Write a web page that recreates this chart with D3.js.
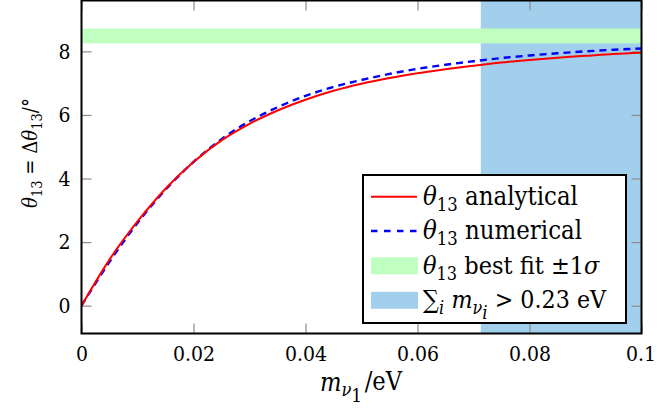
<!DOCTYPE html>
<html><head><meta charset="utf-8">
<script src="https://cdn.jsdelivr.net/npm/d3@7"></script>
<style>
html,body{margin:0;padding:0;background:#fff;}
svg, svg text{font-family:"DejaVu Serif Condensed","DejaVu Serif",serif;font-stretch:condensed;}
</style></head>
<body>
<svg id="c" width="657" height="416"></svg>
<script>
// ---- data ----
const mass = [0,0.005,0.01,0.015,0.02,0.025,0.03,0.035,0.04,0.045,0.05,0.055,0.06,0.065,0.07,0.075,0.08,0.085,0.09,0.095,0.1];
const analytical = [0,1.45,2.65,3.68,4.52,5.2,5.72,6.14,6.48,6.76,6.98,7.16,7.31,7.44,7.55,7.65,7.73,7.8,7.86,7.92,7.96];
const numerical  = [0,1.38,2.6,3.65,4.52,5.24,5.8,6.24,6.6,6.88,7.1,7.29,7.45,7.58,7.69,7.79,7.87,7.94,8.0,8.05,8.09];
const bestFit = [8.25, 8.72];      // theta13 best fit ±1σ band
const massLimit = 0.0713;           // m1 where sum m_i > 0.23 eV
const xTicks = [0,0.02,0.04,0.06,0.08,0.1];
const xTickLabels = ["0","0.02","0.04","0.06","0.08","0.1"];
const yTicks = [0,2,4,6,8];
const yTickLabels = ["0","2","4","6","8"];

const FONT = "'DejaVu Serif Condensed','DejaVu Serif',serif";
const svg = d3.select("#c");
const L=81.5, R=641.5, T=0.5, B=333.5;
const x = d3.scaleLinear().domain([0,0.1]).range([L,R]);
const y = d3.scaleLinear().domain([-0.875,9.6]).range([B,T]);

// scale a text's font-size so its rendered width equals w
function fit(t, w){
  const bw = t.node().getBBox().width;
  const fs = parseFloat(t.attr("font-size"));
  t.attr("font-size", fs*w/bw);
  return t;
}
// font size giving "0.08" a width of 42px
const probe = svg.append("text").attr("font-size",20).attr("font-family",FONT).text("0.08");
const TICKFS = 20*42/probe.node().getBBox().width;
probe.remove();

svg.append("defs").append("clipPath").attr("id","clip")
  .append("rect").attr("x",L).attr("y",T).attr("width",R-L).attr("height",B-T);

// shaded regions
svg.append("rect").attr("x",x(massLimit)).attr("y",T).attr("width",x(0.1)-x(massLimit)).attr("height",B-T)
  .attr("fill","#a2cfec");
svg.append("rect").attr("x",L).attr("y",y(bestFit[1])).attr("width",R-L).attr("height",y(bestFit[0])-y(bestFit[1]))
  .attr("fill","#bfffbf");

// ticks (inward, grey)
function styleAxis(g){ g.attr("font-family",FONT); g.select(".domain").remove(); g.selectAll(".tick line").attr("stroke","#8c8c8c").attr("stroke-width",1.2); }
const xb = svg.append("g").attr("transform",`translate(0,${B})`)
  .call(d3.axisBottom(x).tickValues(xTicks).tickSize(-10).tickPadding(13).tickFormat((d,i)=>xTickLabels[i]))
  .call(styleAxis);
xb.selectAll("text").attr("font-size",TICKFS).attr("fill","#000");
xb.selectAll("text").filter(d=>d===0.1).attr("dx",-1);
svg.append("g").attr("transform",`translate(0,${T})`)
  .call(d3.axisTop(x).tickValues(xTicks).tickSize(-10).tickFormat(""))
  .call(styleAxis);
svg.append("g").attr("transform",`translate(${L},0)`)
  .call(d3.axisLeft(y).tickValues(yTicks).tickSize(-10).tickPadding(11).tickFormat((d,i)=>yTickLabels[i]))
  .call(styleAxis)
  .selectAll("text").attr("font-size",TICKFS).attr("fill","#000");
svg.append("g").attr("transform",`translate(${R},0)`)
  .call(d3.axisRight(y).tickValues(yTicks).tickSize(-10).tickFormat(""))
  .call(styleAxis);

// curves
const line = d3.line().x((d,i)=>x(mass[i])).y(d=>y(d)).curve(d3.curveMonotoneX);
const cg = svg.append("g").attr("clip-path","url(#clip)");
cg.append("path").datum(numerical).attr("d",line).attr("fill","none")
  .attr("stroke","#0000ff").attr("stroke-width",2.4).attr("stroke-dasharray","7,5");
cg.append("path").datum(analytical).attr("d",line).attr("fill","none")
  .attr("stroke","#ff0000").attr("stroke-width",2);

// frame
svg.append("rect").attr("x",L).attr("y",T).attr("width",R-L).attr("height",B-T)
  .attr("fill","none").attr("stroke","#000").attr("stroke-width",2);

// legend
const lg = svg.append("g").attr("font-family",FONT);
lg.append("rect").attr("x",363).attr("y",175).attr("width",263).attr("height",148)
  .attr("fill","#fff").attr("stroke","#000").attr("stroke-width",2);
const rows=[196.7,231,265.8,300.3];
lg.append("line").attr("x1",371).attr("x2",417).attr("y1",rows[0]).attr("y2",rows[0]).attr("stroke","#ff0000").attr("stroke-width",2);
lg.append("line").attr("x1",371).attr("x2",417).attr("y1",rows[1]).attr("y2",rows[1]).attr("stroke","#0000ff").attr("stroke-width",2.4).attr("stroke-dasharray","6.5,6.5");
lg.append("rect").attr("x",371).attr("y",rows[2]-8.5).attr("width",47).attr("height",17).attr("fill","#bfffbf");
lg.append("rect").attr("x",371).attr("y",rows[3]-8.5).attr("width",47).attr("height",17).attr("fill","#a2cfec");

const SUB = "0.72em", SUBSUB = "0.75em";
function thetaLabel(t, rest){
  t.append("tspan").attr("font-style","italic").text("θ");
  t.append("tspan").attr("font-size",SUB).attr("dy","0.35em").text("13");
  t.append("tspan").attr("dy","-0.25em").text(rest);
  return t;
}
const tx=423;
const t1 = thetaLabel(lg.append("text").attr("x",tx).attr("y",rows[0]+8).attr("font-size",22), " analytical");
const t2 = thetaLabel(lg.append("text").attr("x",tx).attr("y",rows[1]+8).attr("font-size",22), " numerical");
const t3 = thetaLabel(lg.append("text").attr("x",tx).attr("y",rows[2]+8).attr("font-size",22), " best fit ±1");
t3.append("tspan").attr("font-style","italic").text("σ");
const t4 = lg.append("text").attr("x",tx).attr("y",rows[3]+8).attr("font-size",22);
t4.append("tspan").text("∑");
t4.append("tspan").attr("font-size",SUB).attr("font-style","italic").attr("dy","0.3em").text("i");
t4.append("tspan").attr("dy","-0.21em").attr("dx","0.3em").attr("font-style","italic").text("m");
t4.append("tspan").attr("font-size",SUB).attr("font-style","italic").attr("dy","0.3em").text("ν");
t4.append("tspan").attr("font-size",SUBSUB).attr("font-style","italic").attr("dy","0.3em").text("i");
t4.append("tspan").attr("dy","-0.47em").text(" > 0.23 eV");
fit(t1,155); fit(t2,159); fit(t3,177); fit(t4,184);

// axis labels
{
  const t = svg.append("text").attr("x",361).attr("y",391).attr("text-anchor","middle").attr("font-size",22).attr("font-family",FONT);
  t.append("tspan").attr("font-style","italic").text("m");
  t.append("tspan").attr("font-size",SUB).attr("font-style","italic").attr("dy","0.3em").text("ν");
  t.append("tspan").attr("font-size",SUBSUB).attr("dy","0.3em").text("1");
  t.append("tspan").attr("dy","-0.47em").attr("dx","0.1em").text("/eV");
  fit(t,83);
}
{
  const t = svg.append("text").attr("transform","translate(37,153) rotate(-90)").attr("text-anchor","middle").attr("font-size",22).attr("font-family",FONT);
  t.append("tspan").attr("font-style","italic").text("θ");
  t.append("tspan").attr("font-size",SUB).attr("dy","0.35em").text("13");
  t.append("tspan").attr("dy","-0.25em").text(" = Δ");
  t.append("tspan").attr("font-style","italic").text("θ");
  t.append("tspan").attr("font-size",SUB).attr("dy","0.35em").text("13");
  t.append("tspan").attr("dy","-0.25em").text("/°");
  fit(t,110);
}
</script>
</body></html>
